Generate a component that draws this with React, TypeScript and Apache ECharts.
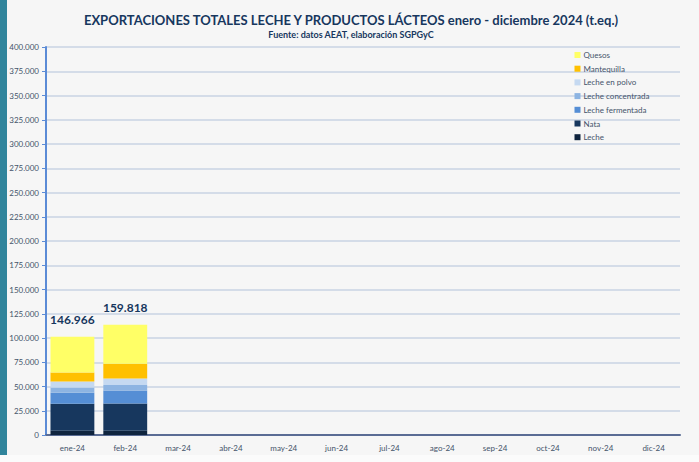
import React, { useEffect, useRef } from "react";
import * as echarts from "echarts";

const categories = ["ene-24", "feb-24", "mar-24", "abr-24", "may-24", "jun-24", "jul-24", "ago-24", "sep-24", "oct-24", "nov-24", "dic-24"];
const leche = [4400, 4400];
const nata = [27800, 28100];
const lecheFermentada = [11300, 13400];
const lecheConcentrada = [5500, 5600];
const lechePolvo = [6200, 6800];
const mantequilla = [9300, 15200];
const quesos = [36800, 40200];
const totals = [146966, 159818];

const seriesNames = ["Leche", "Nata", "Leche fermentada", "Leche concentrada", "Leche en polvo", "Mantequilla", "Quesos"];
const seriesValues = [leche, nata, lecheFermentada, lecheConcentrada, lechePolvo, mantequilla, quesos];
const seriesColors = ["#0F243E", "#17375E", "#558ED5", "#8DB4E2", "#C5D9F1", "#FFC000", "#FFFF66"];

const fmt = (v: number) => String(Math.round(v)).replace(/\B(?=(\d{3})+(?!\d))/g, ".");

export default function App() {
  const ref = useRef<HTMLDivElement>(null);
  useEffect(() => {
    document.body.style.margin = "0";
    const chart = echarts.init(ref.current!, null, { renderer: "svg" });
    const font = "Lato, 'Open Sans', sans-serif";
    const series: any[] = seriesNames.map((name, i) => ({
      name,
      type: "bar",
      stack: "total",
      barCategoryGap: "17%",
      data: seriesValues[i],
      itemStyle: { color: seriesColors[i] },
      label:
        i === seriesNames.length - 1
          ? {
              show: true,
              position: "top",
              distance: 11,
              formatter: (p: any) => fmt(totals[p.dataIndex]),
              fontFamily: font,
              fontWeight: "bold",
              fontSize: 12,
              color: "#17375E",
            }
          : { show: false },
    }));
    chart.setOption({
      animation: false,
      backgroundColor: "#F6F6F6",
      textStyle: { fontFamily: font },
      title: {
        text: "EXPORTACIONES TOTALES LECHE Y PRODUCTOS LÁCTEOS enero - diciembre 2024 (t.eq.)",
        subtext: "Fuente: datos AEAT, elaboración SGPGyC",
        left: 346,
        textAlign: "center",
        top: 8,
        itemGap: 3.5,
        textStyle: { fontFamily: font, fontSize: 13, fontWeight: "bold", color: "#17375E" },
        subtextStyle: { fontFamily: font, fontSize: 9, fontWeight: "bold", color: "#17375E" },
      },
      legend: {
        orient: "vertical",
        left: 569.5,
        top: 46,
        itemWidth: 6,
        itemHeight: 6,
        itemGap: 5.7,
        data: [...seriesNames].reverse(),
        textStyle: { fontFamily: font, fontSize: 8, color: "#44546A", lineHeight: 8, padding: [0, 0, 0, -2] },
        icon: "rect",
      },
      grid: { left: 46, top: 47, width: 634, height: 388, containLabel: false },
      xAxis: {
        type: "category",
        data: categories,
        axisLine: { lineStyle: { color: "#5A6C94", width: 2 } },
        axisTick: { show: false },
        axisLabel: { fontSize: 8, color: "#44546A", margin: 9, fontFamily: font },
      },
      yAxis: {
        type: "value",
        min: 0,
        max: 400000,
        interval: 25000,
        axisLine: { show: true, lineStyle: { color: "#5B8BD6", width: 2 } },
        axisTick: { show: true, length: 4, lineStyle: { color: "#5B8BD6" } },
        splitLine: { lineStyle: { color: "#C9D3E3", width: 1.5 } },
        axisLabel: { fontSize: 8, color: "#44546A", margin: 7, formatter: (v: number) => fmt(v), fontFamily: font },
      },
      graphic: [
        { type: "rect", left: 0, top: 0, shape: { width: 7, height: 455 }, style: { fill: "#31859C" }, z: 10 },
        { type: "rect", left: 0, top: 455, shape: { width: 699, height: 7 }, style: { fill: "#FBFBFB" }, z: -1 },
      ],
      series,
    });
    return () => chart.dispose();
  }, []);
  return <div ref={ref} style={{ width: 699, height: 462 }} />;
}
